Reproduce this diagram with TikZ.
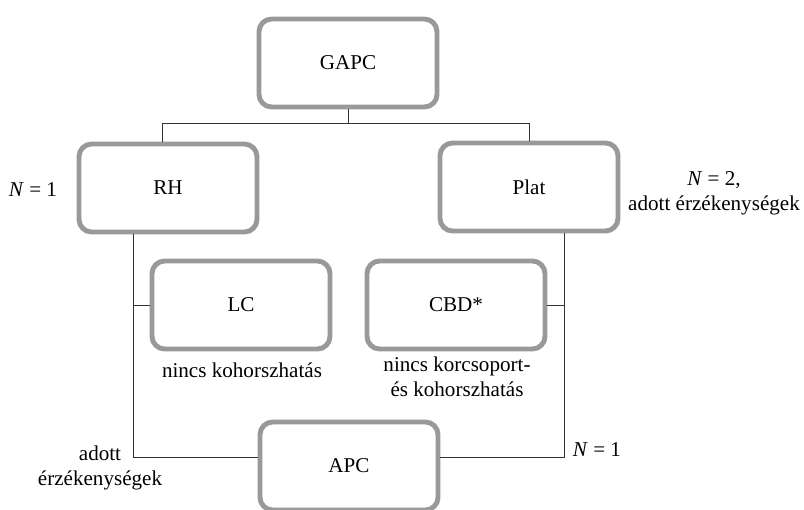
\documentclass[tikz,border=0pt]{standalone}
\usepackage{fontspec}
\setmainfont{Liberation Serif}
\usetikzlibrary{calc}

\definecolor{boxgray}{RGB}{153,153,153}
\tikzset{
  box/.style={draw=boxgray, line width=3.5pt, rounded corners=9pt, fill=white,
    minimum width=4.45cm, minimum height=2.2cm, font=\fontsize{15}{18}\selectfont},
  note/.style={align=center, font=\fontsize{15}{18}\selectfont},
  conn/.style={draw=black!80, line width=0.7pt}
}

\begin{document}
\begin{tikzpicture}[x=0.025cm, y=-0.025cm]
  % cadre
  \clip (0,0) rectangle (804,509);

  % Boites
  \node[box] (GAPC) at (348,63) {GAPC};
  \node[box] (RH) at (168,188) {RH};
  \node[box] (Plat) at (529,187) {Plat};
  \node[box] (LC) at (241,305) {LC};
  \node[box] (CBD) at (456,305) {CBD*};
  \node[box] (APC) at (349,466) {APC};

  % Liaisons
  \draw[conn] (GAPC.south) -- ++(0,14) coordinate (bus);
  \draw[conn] ($(RH.north)+(-6,0)$) |- (bus) -| (Plat.north);
  \draw[conn] ($(RH.south)+(-35,0)$) |- ($(APC.west)+(0,-9)$);
  \draw[conn] ($(Plat.south)+(35,0)$) |- ($(APC.east)+(0,-9)$);
  \draw[conn] (LC.west) -- ++(-17,0);
  \draw[conn] (CBD.east) -- ++(17,0);

  % Remarques
  \node[note] (nrh) at (33,190) {\textit{N} = 1};
  \node[note] (nplat) at (714,193) {\textit{N} = 2,\\adott érzékenységek};
  \node[note] (nlc) at (242,370) {nincs kohorszhatás};
  \node[note] (ncbd) at (457,377) {nincs korcsoport-\\és kohorszhatás};
  \node[note, text depth=0pt] (napcl) at (100,466) {adott\\érzékenységek};
  \node[note] (napcr) at (597,450) {\textit{N} = 1};
\end{tikzpicture}
\end{document}
